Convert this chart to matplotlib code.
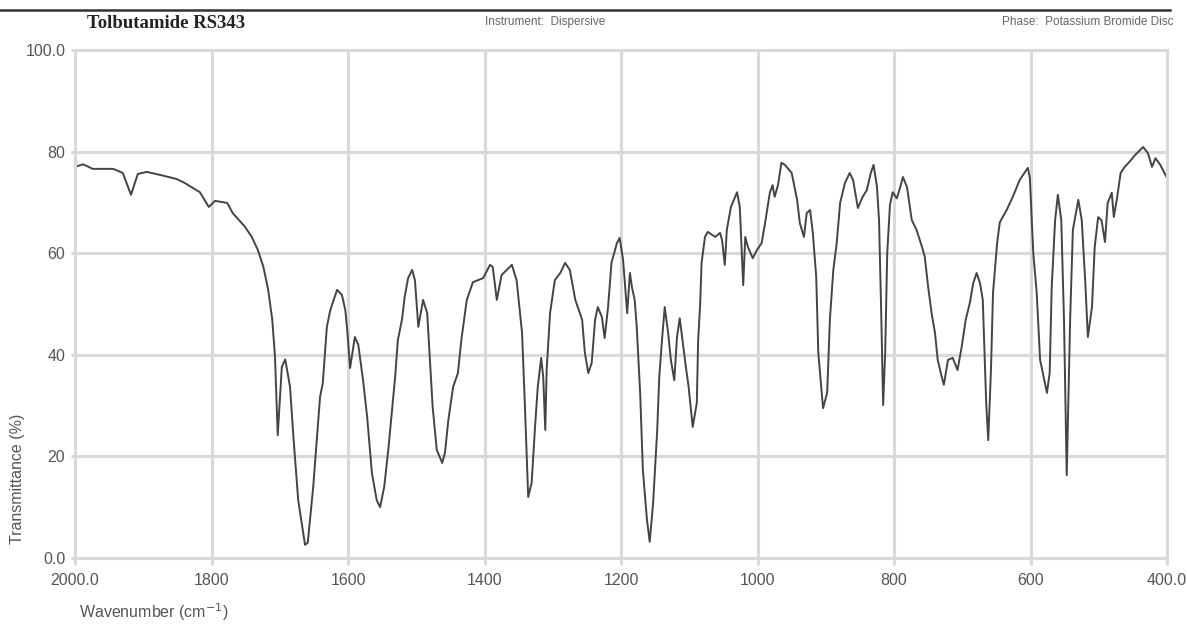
import matplotlib
matplotlib.use("Agg")
import matplotlib.pyplot as plt
from matplotlib.lines import Line2D

# IR spectrum of tolbutamide (KBr disc), wavenumber in cm-1 and transmittance in %
wavenumber = [
    2000, 1988, 1974, 1944, 1930, 1918, 1908, 1895, 1875, 1851, 1839, 1817, 1804, 1795,
    1777, 1769, 1751, 1741, 1732, 1724, 1717, 1711, 1707, 1703, 1697, 1692, 1685, 1680,
    1673, 1663, 1659, 1651, 1645, 1641, 1637, 1631, 1626, 1616, 1609, 1604, 1601, 1597,
    1590, 1585, 1578, 1572, 1565, 1558, 1553, 1547, 1541, 1536, 1531, 1527, 1521, 1517,
    1512, 1506, 1502, 1497, 1490, 1484, 1480, 1476, 1470, 1462, 1458, 1453, 1446, 1439,
    1434, 1426, 1417, 1402, 1392, 1388, 1382, 1375, 1360, 1353, 1345, 1341, 1336, 1331,
    1326, 1322, 1317, 1314, 1311, 1309, 1304, 1297, 1289, 1282, 1275, 1267, 1257, 1253,
    1248, 1243, 1238, 1234, 1228, 1224, 1219, 1214, 1206, 1202, 1197, 1191, 1187, 1184,
    1180, 1177, 1172, 1168, 1162, 1158, 1153, 1147, 1144, 1140, 1136, 1131, 1127, 1122,
    1118, 1114, 1110, 1105, 1101, 1095, 1089, 1087, 1084, 1082, 1077, 1073, 1062, 1055,
    1052, 1048, 1045, 1039, 1030, 1026, 1021, 1018, 1014, 1007, 1001, 994, 989, 982,
    978, 975, 970, 965, 960, 950, 942, 938, 932, 928, 923, 919, 914, 911, 904, 898,
    894, 889, 884, 879, 872, 865, 860, 853, 846, 840, 834, 830, 825, 822, 819, 816,
    813, 810, 806, 802, 796, 791, 787, 781, 774, 767, 759, 755, 750, 745, 740, 736,
    730, 727, 721, 714, 707, 701, 695, 689, 684, 679, 674, 670, 665, 662, 658, 655,
    649, 645, 635, 626, 616, 604, 601, 596, 591, 586, 582, 576, 572, 569, 564, 560,
    555, 551, 547, 542, 538, 530, 525, 520, 516, 510, 506, 501, 496, 491, 487, 481,
    478, 473, 468, 462, 455, 447, 435, 428, 422, 417, 410, 400,
]
transmittance = [
    77.0, 77.5, 76.6, 76.6, 75.8, 71.5, 75.6, 76.0, 75.4, 74.6, 73.8, 72.0, 69.1, 70.3,
    69.9, 67.9, 65.2, 63.2, 60.6, 57.3, 52.8, 46.9, 39.6, 24.2, 37.6, 39.1, 33.7, 23.8,
    11.4, 2.6, 3.0, 14.0, 24.6, 31.7, 34.4, 45.5, 48.8, 52.8, 51.8, 48.8, 44.6, 37.4,
    43.5, 42.0, 35.0, 27.8, 16.7, 11.4, 10.0, 14.0, 21.3, 28.5, 35.6, 42.9, 46.9, 51.4,
    55.1, 56.7, 54.7, 45.5, 50.8, 48.2, 39.0, 29.7, 21.3, 18.7, 20.7, 27.2, 33.7, 36.4,
    42.9, 50.8, 54.3, 55.1, 57.7, 57.3, 50.8, 55.7, 57.7, 54.7, 44.3, 30.5, 12.0, 14.8,
    25.8, 33.7, 39.4, 35.6, 25.2, 37.0, 48.2, 54.7, 56.1, 58.1, 56.7, 50.8, 46.9, 40.4,
    36.4, 38.4, 46.9, 49.4, 47.4, 43.3, 49.4, 58.1, 62.0, 63.0, 58.7, 48.2, 56.1, 53.3,
    50.8, 45.5, 32.5, 17.3, 7.5, 3.2, 10.8, 25.2, 35.6, 42.9, 49.4, 44.3, 39.0, 35.0,
    43.5, 47.2, 42.9, 37.6, 33.7, 25.8, 30.5, 42.9, 50.2, 58.1, 63.2, 64.2, 63.2, 64.0,
    62.6, 57.7, 64.6, 69.1, 72.0, 69.1, 53.7, 63.2, 61.2, 59.0, 60.6, 62.0, 65.9, 71.9,
    73.4, 71.1, 73.4, 77.8, 77.4, 75.8, 70.5, 65.9, 63.2, 67.9, 68.5, 64.0, 55.3, 40.4,
    29.5, 32.5, 46.9, 56.7, 62.0, 69.9, 73.8, 75.8, 74.4, 68.9, 71.1, 72.4, 75.8, 77.4,
    73.0, 66.5, 49.4, 30.1, 40.4, 60.0, 69.5, 72.0, 70.8, 73.0, 75.0, 73.0, 66.5, 64.6,
    61.2, 59.3, 53.3, 48.2, 44.3, 39.0, 35.6, 34.1, 39.0, 39.4, 37.0, 41.5, 46.9, 50.2,
    54.1, 56.1, 54.1, 50.8, 30.5, 23.2, 37.0, 52.2, 62.0, 66.1, 68.5, 71.1, 74.4, 76.8,
    74.8, 60.0, 52.2, 39.0, 36.4, 32.5, 36.4, 53.3, 66.5, 71.5, 66.5, 46.9, 16.3, 46.9,
    64.6, 70.5, 66.5, 54.7, 43.5, 49.4, 61.2, 67.1, 66.5, 62.2, 69.9, 71.9, 67.1, 71.1,
    75.8, 77.0, 78.0, 79.3, 80.9, 79.7, 77.0, 78.7, 77.4, 74.8,
]

x_ticks = [2000, 1800, 1600, 1400, 1200, 1000, 800, 600, 400]
x_tick_labels = ["2000.0", "1800", "1600", "1400", "1200", "1000", "800", "600", "400.0"]
y_ticks = [0, 20, 40, 60, 80, 100]
y_tick_labels = ["0.0", "20", "40", "60", "80", "100.0"]

title_text = "Tolbutamide RS343"
instrument_text = "Instrument:  Dispersive"
phase_text = "Phase:  Potassium Bromide Disc"

plt.rcParams["font.family"] = ["Liberation Sans", "DejaVu Sans"]

fig = plt.figure(figsize=(11.87, 6.25), dpi=100)
ax = fig.add_axes([0.0632, 0.1072, 0.9200, 0.8128])

grid_color = "#d9d9d9"
text_color = "#555555"

ax.plot(wavenumber, transmittance, color="#444444", linewidth=1.4, solid_joinstyle="round")

ax.set_xlim(2000, 400)
ax.set_ylim(0, 100)
ax.set_xticks(x_ticks)
ax.set_xticklabels(x_tick_labels)
ax.set_yticks(y_ticks)
ax.set_yticklabels(y_tick_labels)

ax.grid(True, color=grid_color, linewidth=2.2)
ax.set_axisbelow(True)
for side in ax.spines.values():
    side.set_color(grid_color)
    side.set_linewidth(2.2)
ax.tick_params(axis="both", length=5, width=2.2, color=grid_color,
               labelsize=11.5, labelcolor=text_color, pad=6)
ax.tick_params(axis="y", length=3, pad=4)

ax.set_xlabel("Wavenumber (cm$^{-1}$)", fontsize=11.5, color=text_color)
ax.xaxis.set_label_coords(0.004, -0.085)
ax.xaxis.label.set_horizontalalignment("left")
ax.set_ylabel("Transmittance (%)", fontsize=11.5, color=text_color)
ax.yaxis.set_label_coords(-0.053, 0.155)
ax.yaxis.label.set_verticalalignment("center")

# header rule and captions
fig.add_artist(Line2D([0.0, 0.986], [1 - 10 / 625, 1 - 10 / 625],
                      transform=fig.transFigure, color="#333333", linewidth=1.8))
fig.text(87 / 1187, 1 - 24 / 625, title_text, fontsize=13.5, fontweight="bold",
         family=["Liberation Serif", "DejaVu Serif"], color="#222222", va="center", ha="left")
fig.text(485 / 1187, 1 - 22 / 625, instrument_text, fontsize=8.5, color="#666666",
         va="center", ha="left")
fig.text(1173 / 1187, 1 - 22 / 625, phase_text, fontsize=8.5, color="#666666",
         va="center", ha="right")

fig.savefig("out.png", dpi=100)
